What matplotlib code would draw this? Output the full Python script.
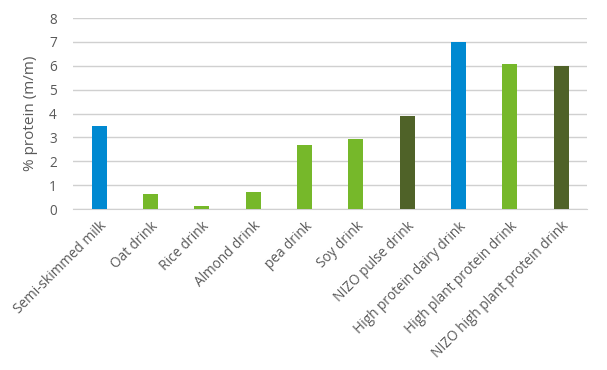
import matplotlib.pyplot as plt
import numpy as np

plt.rcParams['font.family'] = ['Open Sans', 'DejaVu Sans']

drinks = ["Semi-skimmed milk", "Oat drink", "Rice drink", "Almond drink", "pea drink",
          "Soy drink", "NIZO pulse drink", "High protein dairy drink",
          "High plant protein drink", "NIZO high plant protein drink"]
protein = [3.5, 0.65, 0.12, 0.7, 2.68, 2.92, 3.88, 6.98, 6.08, 5.98]
kind = ["dairy", "plant", "plant", "plant", "plant", "plant", "nizo", "dairy", "plant", "nizo"]

colours = {"dairy": "#0089D1", "plant": "#76B82A", "nizo": "#4F6228"}

fig = plt.figure(figsize=(6.07, 3.70), dpi=100)
ax = fig.add_axes([0.121, 0.435, 0.846, 0.516])

x = np.arange(len(drinks))
ax.bar(x, protein, width=0.29, color=[colours[k] for k in kind], zorder=3)

ax.set_xlim(-0.5, len(drinks) - 0.5)
ax.set_ylim(0, 8)
ax.set_yticks(range(0, 9))
ax.yaxis.grid(True, color="#D0D0D0", linewidth=1.0, zorder=0)
ax.set_axisbelow(True)

for s in ["top", "right", "left"]:
    ax.spines[s].set_visible(False)
ax.spines["bottom"].set_color("#D0D0D0")

ax.tick_params(axis="both", length=0, colors="#595959", labelsize=9.8)
ax.tick_params(axis="y", pad=12)
ax.tick_params(axis="x", pad=7)
ax.set_xticks(x)
ax.set_xticklabels(drinks, rotation=45, ha="right", rotation_mode="anchor")

ax.set_ylabel("% protein (m/m)", color="#595959", fontsize=11, labelpad=8)

fig.savefig("out.png", dpi=100)
